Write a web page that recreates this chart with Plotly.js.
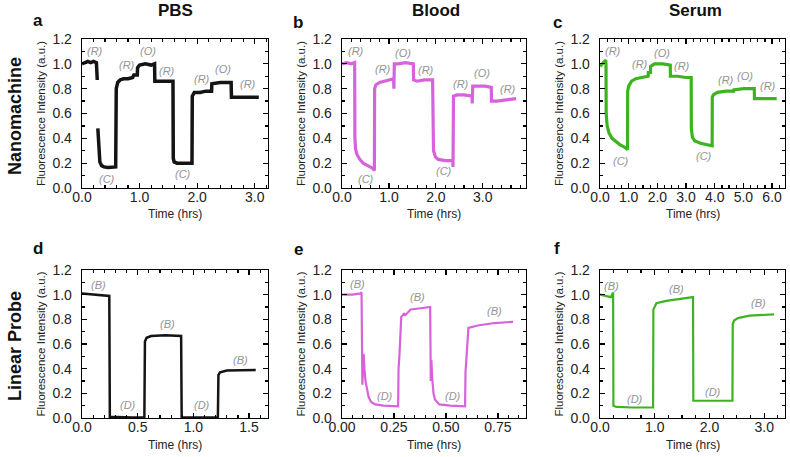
<!DOCTYPE html>
<html><head><meta charset="utf-8">
<script src="https://cdn.plot.ly/plotly-3.0.1.min.js"></script>
<style>html,body{margin:0;padding:0;background:#fff}#chart{width:790px;height:457px}</style>
</head><body><div id="chart"></div>
<script>
// ---- Panel a: PBS, nanomachine ----
const pbsNanoT = [0,0.05,0.1,0.15,0.2,0.25,0.255,0.265,null,0.275,0.29,0.31,0.34,0.38,0.45,0.52,0.585,0.595,0.62,0.66,0.72,0.8,0.88,0.9,0.96,0.965,1.0,1.1,1.2,1.26,1.265,1.35,1.45,1.58,1.585,1.6,1.65,1.75,1.91,1.915,1.95,2.05,2.15,2.25,2.255,2.4,2.59,2.595,2.8,3.07];
const pbsNanoY = [1.00,1.01,1.02,1.01,1.02,1.01,0.95,0.87,null,0.48,0.30,0.21,0.18,0.17,0.165,0.165,0.17,0.80,0.85,0.87,0.88,0.88,0.89,0.91,0.91,0.97,0.99,1.00,0.99,1.00,0.86,0.86,0.86,0.86,0.24,0.21,0.20,0.20,0.20,0.74,0.77,0.77,0.78,0.78,0.84,0.85,0.85,0.73,0.73,0.73];
const pbsNanoLabT = [0.22,0.44,0.78,1.14,1.47,1.75,2.08,2.44,2.89];
const pbsNanoLabY = [1.10,0.075,0.99,1.10,0.94,0.115,0.877,0.96,0.837];
const pbsNanoLab = ["(R)","(C)","(R)","(O)","(R)","(C)","(R)","(O)","(R)"];

// ---- Panel b: Blood, nanomachine ----
const bloodNanoT = [0,0.1,0.2,0.27,0.275,0.29,0.32,0.38,0.45,0.55,0.65,0.69,0.695,0.72,0.8,0.9,1.0,1.1,1.105,1.115,1.2,1.35,1.52,1.525,1.6,1.75,1.93,1.935,1.95,1.99,2.05,2.2,2.36,2.365,2.375,2.45,2.6,2.77,2.775,2.785,2.9,3.05,3.18,3.185,3.3,3.5,3.71];
const bloodNanoY = [1.00,1.01,1.00,1.01,0.40,0.31,0.27,0.23,0.20,0.18,0.16,0.14,0.80,0.83,0.85,0.86,0.87,0.88,0.80,1.00,1.00,1.01,1.00,0.87,0.86,0.87,0.87,0.40,0.30,0.25,0.23,0.22,0.22,0.17,0.74,0.75,0.75,0.74,0.68,0.82,0.82,0.82,0.81,0.70,0.70,0.71,0.72];
const bloodNanoLabT = [0.29,0.52,0.87,1.31,1.80,2.18,2.54,2.98,3.54];
const bloodNanoLabY = [1.10,0.075,0.96,1.09,0.95,0.135,0.84,0.93,0.80];
const bloodNanoLab = ["(R)","(C)","(R)","(O)","(R)","(C)","(R)","(O)","(R)"];

// ---- Panel c: Serum, nanomachine ----
const serumNanoT = [0,0.1,0.2,0.21,0.215,0.25,0.32,0.42,0.52,0.69,0.85,0.96,0.965,1.0,1.1,1.25,1.45,1.68,1.685,1.76,1.765,1.9,2.2,2.45,2.455,2.7,3.0,3.18,3.185,3.22,3.3,3.5,3.7,3.91,3.915,3.95,4.1,4.4,4.66,4.665,5.0,5.38,5.385,5.7,6.16];
const serumNanoY = [0.98,1.01,1.03,0.99,0.60,0.50,0.44,0.40,0.38,0.35,0.33,0.31,0.78,0.82,0.86,0.88,0.89,0.90,0.93,0.93,0.98,1.00,1.00,0.99,0.90,0.90,0.89,0.89,0.48,0.41,0.38,0.36,0.35,0.34,0.73,0.75,0.77,0.78,0.78,0.79,0.80,0.80,0.72,0.72,0.72];
const serumNanoLabT = [0.44,0.73,1.39,2.16,2.87,3.62,4.38,5.05,5.85];
const serumNanoLabY = [1.10,0.22,1.00,1.09,0.98,0.26,0.87,0.90,0.82];
const serumNanoLab = ["(R)","(C)","(R)","(O)","(R)","(C)","(R)","(O)","(R)"];

// ---- Panel d: PBS, linear probe ----
const pbsLinT = [0,0.1,0.2,0.245,0.25,0.35,0.45,0.56,0.565,0.58,0.62,0.75,0.89,0.895,1.0,1.1,1.22,1.225,1.24,1.3,1.45,1.56];
const pbsLinY = [1.01,1.00,0.99,0.99,0.01,0.005,0.005,0.005,0.62,0.65,0.665,0.67,0.665,0.005,0.005,0.005,0.005,0.35,0.37,0.385,0.39,0.39];
const pbsLinLabT = [0.15,0.41,0.77,1.08,1.42];
const pbsLinLabY = [1.08,0.108,0.76,0.108,0.47];
const pbsLinLab = ["(B)","(D)","(B)","(D)","(B)"];

// ---- Panel e: Blood, linear probe ----
const bloodLinT = [0,0.05,0.09,0.094,0.098,0.101,0.104,0.108,0.113,0.12,0.128,0.14,0.16,0.2,0.27,0.272,0.276,0.285,0.3,0.303,0.33,0.38,0.424,0.427,0.43,0.434,0.44,0.447,0.468,0.52,0.592,0.594,0.6,0.608,0.653,0.734,0.823];
const bloodLinY = [1.00,1.00,1.01,1.02,0.27,0.42,0.52,0.40,0.30,0.24,0.17,0.13,0.11,0.10,0.095,0.40,0.50,0.82,0.85,0.83,0.88,0.89,0.90,0.30,0.47,0.32,0.20,0.15,0.11,0.10,0.095,0.37,0.50,0.73,0.75,0.77,0.78];
const bloodLinLabT = [0.073,0.205,0.363,0.532,0.734];
const bloodLinLabY = [1.09,0.175,0.985,0.175,0.87];
const bloodLinLab = ["(B)","(D)","(B)","(D)","(B)"];

// ---- Panel f: Serum, linear probe ----
const serumLinT = [0,0.1,0.2,0.23,0.24,0.245,0.3,0.6,0.97,0.975,1.0,1.03,1.21,1.52,1.70,1.705,2.0,2.42,2.425,2.45,2.52,2.73,3.18];
const serumLinY = [1.00,0.99,0.98,1.01,1.01,0.10,0.09,0.085,0.085,0.88,0.91,0.93,0.95,0.97,0.98,0.14,0.14,0.14,0.76,0.79,0.81,0.83,0.84];
const serumLinLabT = [0.21,0.64,1.39,2.06,2.90];
const serumLinLabY = [1.07,0.157,1.05,0.208,0.93];
const serumLinLab = ["(B)","(D)","(B)","(D)","(B)"];

const columnTitles = ["PBS","Blood","Serum"];
const rowTitles = ["Nanomachine","Linear Probe"];
const panelLetters = ["a","b","c","d","e","f"];
const yTitle = "Fluorescence Intensity (a.u.)";
const xTitle = "Time (hrs)";

// ---- presentation ----
const FONT = "Arial, 'Liberation Sans', sans-serif";
const BLACK = "#141414", MAG = "#d862dc", GREEN = "#3db41f";
const panels = [
  {t:pbsNanoT, y:pbsNanoY, lt:pbsNanoLabT, ly:pbsNanoLabY, lab:pbsNanoLab, color:BLACK, w:3.5, xr:3.23, dt:1, mdt:0.2, fmt:".1f"},
  {t:bloodNanoT, y:bloodNanoY, lt:bloodNanoLabT, ly:bloodNanoLabY, lab:bloodNanoLab, color:MAG, w:3.2, xr:3.92, dt:1, mdt:0.2, fmt:".1f"},
  {t:serumNanoT, y:serumNanoY, lt:serumNanoLabT, ly:serumNanoLabY, lab:serumNanoLab, color:GREEN, w:3.2, xr:6.45, dt:1, mdt:0.25, fmt:".1f"},
  {t:pbsLinT, y:pbsLinY, lt:pbsLinLabT, ly:pbsLinLabY, lab:pbsLinLab, color:BLACK, w:2.5, xr:1.67, dt:0.5, mdt:0.1, fmt:".1f"},
  {t:bloodLinT, y:bloodLinY, lt:bloodLinLabT, ly:bloodLinLabY, lab:bloodLinLab, color:MAG, w:2.2, xr:0.885, dt:0.25, mdt:0.05, fmt:".2f"},
  {t:serumLinT, y:serumLinY, lt:serumLinLabT, ly:serumLinLabY, lab:serumLinLab, color:GREEN, w:2.2, xr:3.38, dt:1, mdt:0.25, fmt:".1f"}
];
const W = 790, H = 457;
const colPx = [[82,268],[342,526],[600,785]];
const rowPx = [[39,188],[270,418]];
const xTitleY = [214,445];

const data = [];
const layout = {
  width: W, height: H, margin:{l:0,r:0,t:0,b:0},
  paper_bgcolor:"#fff", plot_bgcolor:"#fff", showlegend:false,
  font:{family:FONT, color:"#222"}, annotations:[]
};
panels.forEach((p,i)=>{
  const r = Math.floor(i/3), c = i%3, n = i+1;
  const xa = n===1?"x":"x"+n, ya = n===1?"y":"y"+n;
  data.push({type:"scatter", mode:"lines", x:p.t, y:p.y, xaxis:xa, yaxis:ya,
    line:{color:p.color, width:p.w}, connectgaps:false, hoverinfo:"skip"});
  const common = {showline:true, linecolor:"#000", linewidth:1.3, mirror:"ticks",
    ticks:"inside", ticklen:5, tickwidth:1.2, tickcolor:"#000", showgrid:false, zeroline:false,
    tickfont:{family:FONT, size:14, color:"#222"}};
  layout["xaxis"+(n===1?"":n)] = Object.assign({}, common, {
    domain:[colPx[c][0]/W, colPx[c][1]/W], anchor:ya, range:[0,p.xr], dtick:p.dt, tick0:0,
    tickformat:p.fmt, minor:{ticks:"inside", ticklen:3, dtick:p.mdt, tick0:0, tickcolor:"#000"},
    ticklabelstandoff:-4});
  layout["yaxis"+(n===1?"":n)] = Object.assign({}, common, {
    domain:[1-rowPx[r][1]/H, 1-rowPx[r][0]/H], anchor:xa, range:[0,1.2], dtick:0.2, tick0:0,
    tickformat:".1f", minor:{ticks:"inside", ticklen:3, dtick:0.1, tick0:0, tickcolor:"#000"},
    ticklabelstandoff:6,
    title:{text:yTitle, font:{family:FONT, size:11.5, color:"#222"}, standoff:4}});
  // x-axis title as a paper annotation centred under the panel
  layout.annotations.push({xref:"paper", yref:"paper",
    x:(colPx[c][0]+colPx[c][1])/2/W, y:1-xTitleY[r]/H, xanchor:"center", yanchor:"middle",
    text:xTitle, showarrow:false, font:{family:FONT, size:12, color:"#222"}});
  p.lab.forEach((s,k)=>{
    layout.annotations.push({xref:xa, yref:ya, x:p.lt[k], y:p.ly[k], text:s, showarrow:false,
      xanchor:"center", yanchor:"middle",
      font:{family:FONT, size:11, color:"#939393", style:"italic"}});
  });
});
const letterPos = [[38,20],[298,22],[557,22],[38,248],[298,250],[557,248]];
panelLetters.forEach((s,k)=>{
  layout.annotations.push({xref:"paper", yref:"paper", x:letterPos[k][0]/W, y:1-letterPos[k][1]/H,
    xanchor:"center", yanchor:"middle",
    text:"<b>"+s+"</b>", showarrow:false, font:{family:FONT, size:17, color:"#111"}});
});
const colCenters = [175,436,695];
columnTitles.forEach((s,k)=>{
  layout.annotations.push({xref:"paper", yref:"paper", x:colCenters[k]/W, y:1-11/H,
    xanchor:"center", yanchor:"middle",
    text:"<b>"+s+"</b>", showarrow:false, font:{family:FONT, size:17, color:"#111"}});
});
const rowCenters = [116,346];
rowTitles.forEach((s,k)=>{
  layout.annotations.push({xref:"paper", yref:"paper", x:15/W, y:1-rowCenters[k]/H,
    xanchor:"center", yanchor:"middle",
    text:"<b>"+s+"</b>", showarrow:false, textangle:-90, font:{family:FONT, size:18, color:"#111"}});
});
Plotly.newPlot("chart", data, layout, {staticPlot:true, displayModeBar:false});
</script></body></html>
